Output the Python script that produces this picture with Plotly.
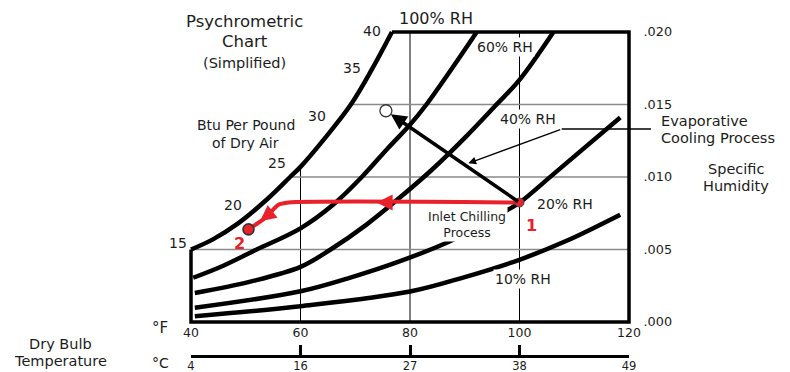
import plotly.graph_objects as go

# ---------------- data ----------------
# dry bulb temperature ticks
temp_f = [40, 60, 80, 100, 120]
temp_c = [4, 16, 27, 38, 49]
# specific humidity ticks (lb water / lb dry air)
humidity_ticks = [0.000, 0.005, 0.010, 0.015, 0.020]
humidity_text = [".000", ".005", ".010", ".015", ".020"]
grid_f = [60, 80, 100]
grid_w = [0.005, 0.010, 0.015]

# relative humidity curves: (dry bulb °F, specific humidity)
rh100_t = [40, 44, 48.6, 54, 58.1, 60, 64.5, 69.2, 73, 76.7]
rh100_w = [0.0050, 0.0057, 0.0068, 0.0085, 0.0100, 0.0107, 0.0127, 0.0150, 0.0174, 0.0200]
rh60_t = [40.4, 46, 52, 60, 66, 71.2, 76, 80, 83, 87.5, 92.2]
rh60_w = [0.00305, 0.0039, 0.0050, 0.00646, 0.0081, 0.0100, 0.0120, 0.0136, 0.0150, 0.0174, 0.0200]
rh40_t = [40.7, 51, 60, 65.5, 72, 78.2, 84, 90, 95.8, 100, 106.2]
rh40_w = [0.0020, 0.0028, 0.0038, 0.0050, 0.0067, 0.0086, 0.0105, 0.0127, 0.0150, 0.0167, 0.0200]
rh20_t = [40.7, 60.0, 69.4, 78.2, 87.3, 97.7, 100.1, 106.2, 118.4]
rh20_w = [0.00098, 0.00212, 0.0031, 0.0042, 0.00557, 0.0077, 0.00826, 0.0102, 0.0141]
rh10_t = [40.7, 60.0, 80.0, 90.0, 100.1, 108.6, 118.4]
rh10_w = [0.0004, 0.00109, 0.0021, 0.0031, 0.00431, 0.0056, 0.0074]

# process states
state1 = (100.0, 0.00824)          # hot ambient air
state_evap = (75.6, 0.01457)       # after evaporative cooling
chill_t = [100.0, 57.8, 55.9, 54.4, 53.2, 50.5]   # inlet chilling path
chill_w = [0.00824, 0.00824, 0.00807, 0.0075, 0.00708, 0.00639]

enthalpy_labels = ["15", "20", "25", "30", "35", "40"]

# ---------------- geometry ----------------
W, H = 790, 372
X40, X120 = 191, 629      # pixel columns of 40 °F and 120 °F
Y0, Y20 = 322, 32         # pixel rows of .000 and .020
PAD = 3
AXIS_C = 356              # row of the Celsius scale
plot_l, plot_r = X40 - PAD, X120 + PAD
plot_t, plot_b = Y20 - PAD, Y0 + PAD
sx = (X120 - X40) / (temp_f[-1] - temp_f[0])
sy = (Y0 - Y20) / (humidity_ticks[-1] - humidity_ticks[0])
T_MIN, T_MAX = temp_f[0], temp_f[-1]
W_MIN, W_MAX = humidity_ticks[0], humidity_ticks[-1]


def fx(px):
    return (px - plot_l) / (plot_r - plot_l)


def fy(py):
    return (AXIS_C - py) / (AXIS_C - plot_t)


FONT = "DejaVu Sans"
INK = "#1c1c1c"
RED = "#e8212b"

fig = go.Figure()

# white mask left of the saturation line hides the grid there
fig.add_trace(go.Scatter(
    x=rh100_t + [T_MIN], y=rh100_w + [W_MAX], mode="lines", fill="toself",
    fillcolor="white", line=dict(width=0, color="white"), hoverinfo="skip",
    showlegend=False))

# RH curves
for ts, ws in [(rh100_t, rh100_w), (rh60_t, rh60_w), (rh40_t, rh40_w),
               (rh20_t, rh20_w), (rh10_t, rh10_w)]:
    fig.add_trace(go.Scatter(
        x=ts, y=ws, mode="lines",
        line=dict(color="black", width=4.5, shape="spline", smoothing=1.0),
        hoverinfo="skip", showlegend=False))

# chart frame (open on the upper left where the saturation line runs)
fig.add_trace(go.Scatter(
    x=[rh100_t[-1], T_MAX, T_MAX, T_MIN, T_MIN],
    y=[W_MAX, W_MAX, W_MIN, W_MIN, rh100_w[0]],
    mode="lines", line=dict(color="black", width=3.5),
    hoverinfo="skip", showlegend=False))

# inlet chilling path
fig.add_trace(go.Scatter(
    x=chill_t, y=chill_w, mode="lines",
    line=dict(color=RED, width=4, shape="spline", smoothing=0.6),
    hoverinfo="skip", showlegend=False))

# state points
fig.add_trace(go.Scatter(
    x=[state_evap[0]], y=[state_evap[1]], mode="markers",
    marker=dict(size=12, color="white", line=dict(color="#333", width=1.3)),
    hoverinfo="skip", showlegend=False))
fig.add_trace(go.Scatter(
    x=[chill_t[-1]], y=[chill_w[-1]], mode="markers",
    marker=dict(size=11, color=RED, line=dict(color="#333", width=1.6)),
    hoverinfo="skip", showlegend=False))
fig.add_trace(go.Scatter(
    x=[state1[0]], y=[state1[1]], mode="markers",
    marker=dict(size=9, color=RED, line=dict(color="#444", width=1)),
    hoverinfo="skip", showlegend=False))

# hidden trace to carry the Celsius scale
fig.add_trace(go.Scatter(
    x=[T_MIN, T_MAX], y=[W_MIN, W_MIN], xaxis="x2", yaxis="y", mode="markers",
    marker=dict(opacity=0), hoverinfo="skip", showlegend=False))

# grid lines
shapes = []
for t in grid_f:
    shapes.append(dict(type="line", xref="x", yref="y", x0=t, x1=t, y0=W_MIN, y1=W_MAX,
                       line=dict(color="black", width=1), layer="below"))
for w in grid_w:
    shapes.append(dict(type="line", xref="x", yref="y", x0=T_MIN, x1=T_MAX, y0=w, y1=w,
                       line=dict(color="#8a8a8a", width=1.5), layer="below"))
# leader line for the evaporative cooling label
shapes.append(dict(type="line", xref="paper", yref="paper", x0=fx(561.7), x1=fx(651),
                   y0=fy(129), y1=fy(129), line=dict(color="black", width=1.3)))
annotations = []


def text(s, px, py, size=15, xanchor="center", color=INK, bold=False, **kw):
    annotations.append(dict(
        text=f"<b>{s}</b>" if bold else s, x=fx(px), y=fy(py), xref="paper",
        yref="paper", showarrow=False, xanchor=xanchor, yanchor="middle",
        font=dict(family=FONT, size=size, color=color), **kw))


def dtext(s, t, w, size=14, color=INK, bold=False, bg="white"):
    annotations.append(dict(
        text=f"<b>{s}</b>" if bold else s, x=t, y=w, xref="x", yref="y",
        showarrow=False, xanchor="center", yanchor="middle", bgcolor=bg, borderpad=1,
        font=dict(family=FONT, size=size, color=color)))


# evaporative cooling arrow from state 1
annotations.append(dict(
    x=state_evap[0], y=state_evap[1], ax=state1[0], ay=state1[1], xref="x", yref="y",
    axref="x", ayref="y", text="", showarrow=True, arrowhead=2, arrowsize=0.9,
    arrowwidth=3.5, arrowcolor="black", standoff=6))
# red arrowheads along the chilling path
annotations.append(dict(
    x=73.9, y=chill_w[0], ax=11, ay=0, xref="x", yref="y", text="", showarrow=True,
    arrowhead=2, arrowsize=0.8, arrowwidth=4, arrowcolor=RED))
annotations.append(dict(
    x=52.6, y=0.00694, ax=9, ay=-7, xref="x", yref="y", text="", showarrow=True,
    arrowhead=2, arrowsize=0.8, arrowwidth=4, arrowcolor=RED))
# pointer from the label to the evaporative process line
annotations.append(dict(
    x=T_MIN + (468.3 - X40) / sx, y=(Y0 - 163.3) / sy, ax=93.4, ay=-34.3,
    xref="x", yref="y", text="", showarrow=True, arrowhead=2, arrowsize=1.2,
    arrowwidth=1.3, arrowcolor="black"))

# titles and side captions
text("Psychrometric", 244.5, 22, size=16.5)
text("Chart", 245, 41.5, size=16.5)
text("(Simplified)", 244.5, 62.5, size=14.5)
text("Btu Per Pound", 245.8, 125.5, size=14)
text("of Dry Air", 245, 142.5, size=14)
text("100% RH", 435.8, 18.3, size=16)
text("Evaporative", 659, 121, size=14.5, xanchor="left")
text("Cooling Process", 659, 137.7, size=14.5, xanchor="left")
text("Specific", 735.5, 169, size=14.5)
text("Humidity", 735.8, 186, size=14.5)
text("Dry Bulb", 60, 344, size=14.5)
text("Temperature", 60.5, 360.5, size=14.5)
text("°F", 160, 328, size=15)
text("°C", 160, 363, size=14)

# enthalpy scale along the saturation line
for s, (px, py) in zip(enthalpy_labels, [(178.3, 243.3), (233, 205), (276.7, 163.3),
                                         (317, 115.7), (351.5, 68.3), (372, 31)]):
    text(s, px, py, size=14)

# RH labels and process labels on the chart
dtext("60% RH", 97.4, 0.01895)
dtext("40% RH", 101.5, 0.01403)
dtext("20% RH", 108.3, 0.00815)
dtext("10% RH", 100.6, 0.00298)
dtext("Inlet Chilling<br>Process", 90.4, 0.00672, size=12.5)
dtext("1", 102.1, 0.00669, size=16, color=RED, bold=True, bg=None)
dtext("2", 48.8, 0.00543, size=16, color=RED, bold=True, bg=None)

fig.update_layout(
    width=W, height=H, paper_bgcolor="white", plot_bgcolor="rgba(0,0,0,0)",
    margin=dict(l=plot_l, r=W - plot_r, t=plot_t, b=H - AXIS_C, pad=0, autoexpand=False),
    showlegend=False, shapes=shapes, annotations=annotations,
    xaxis=dict(range=[T_MIN - PAD / sx, T_MAX + PAD / sx], tickvals=temp_f,
               ticktext=[str(v) for v in temp_f], showgrid=False, zeroline=False,
               showline=False, ticks="", automargin=False, ticklabelstandoff=-2,
               tickfont=dict(family=FONT, size=12.5, color=INK), fixedrange=True),
    xaxis2=dict(range=[T_MIN, T_MAX], domain=[fx(X40), fx(X120)], anchor="free",
                position=0, tickvals=temp_f, ticktext=[str(v) for v in temp_c],
                showgrid=False, zeroline=False, showline=True, linecolor="black",
                linewidth=3, ticks="inside", ticklen=10, tickwidth=3, tickcolor="black",
                automargin=False, ticklabelstandoff=-2,
                tickfont=dict(family=FONT, size=11.5, color=INK), fixedrange=True),
    yaxis=dict(range=[W_MIN - PAD / sy, W_MAX + PAD / sy],
               domain=[(AXIS_C - plot_b) / (AXIS_C - plot_t), 1], side="right",
               tickvals=humidity_ticks, ticktext=humidity_text, showgrid=False,
               zeroline=False, showline=False, ticks="outside", ticklen=8,
               tickcolor="rgba(0,0,0,0)", automargin=False,
               tickfont=dict(family=FONT, size=12.8, color=INK), fixedrange=True),
)

fig.write_html("out.html")
